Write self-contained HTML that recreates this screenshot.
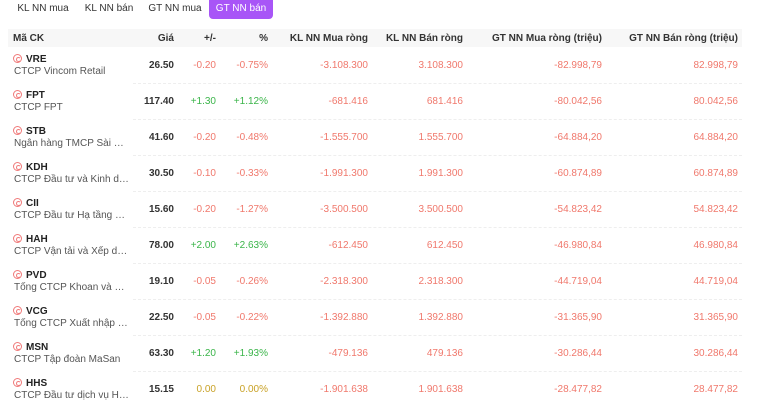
<!DOCTYPE html>
<html><head><meta charset="utf-8"><style>
body{margin:0;width:761px;height:400px;overflow:hidden;background:#fff;font-family:"Liberation Sans",sans-serif;color:#222;position:relative}
.tab{position:absolute;top:0;height:19px;line-height:17px;font-size:10px;color:#333;text-align:center}
.tab.on{background:#a855f7;color:#fff;border-radius:0 0 4px 4px}
.hdr{position:absolute;left:8px;top:29px;width:734px;height:18px;background:#f7f7f7}
.h{position:absolute;top:33px;font-size:10px;font-weight:bold;color:#333}
.row{position:absolute;left:0;width:761px;height:36px}
.sep{position:absolute;left:133px;right:19px;top:0;border-top:1px dashed #eee}
.c{position:absolute;top:13px;font-size:10px;text-align:right}
.sym{position:absolute;left:26px;top:7px;font-size:10px;font-weight:bold}
.nm{position:absolute;left:14px;top:19px;width:116px;font-size:10px;color:#555;white-space:nowrap;overflow:hidden;text-overflow:ellipsis}
.ic{position:absolute;left:13px;top:7px;width:9px;height:9px;border:1px solid #f07a7a;border-radius:50%;box-sizing:border-box}
.ic:after{content:"";position:absolute;left:2px;top:2px;width:3px;height:3px;border:1px solid #f07a7a;border-radius:50%;border-right-color:transparent}
.r{color:#f0786c}.g{color:#3bb54a}.y{color:#c9a227}
</style></head><body>
<div class="tab" style="left:10px;width:66px">KL NN mua</div>
<div class="tab" style="left:76px;width:66px">KL NN bán</div>
<div class="tab" style="left:142px;width:66px">GT NN mua</div>
<div class="tab on" style="left:209px;width:64px">GT NN bán</div>
<div class="hdr"></div>
<div class="h" style="left:13px">Mã CK</div>
<div class="h" style="right:587px">Giá</div>
<div class="h" style="right:545px">+/-</div>
<div class="h" style="right:493px">%</div>
<div class="h" style="right:393px">KL NN Mua ròng</div>
<div class="h" style="right:298px">KL NN Bán ròng</div>
<div class="h" style="right:159px">GT NN Mua ròng (triệu)</div>
<div class="h" style="right:23px">GT NN Bán ròng (triệu)</div>
<div id="rows"></div>
<script>
const syms=["VRE","FPT","STB","KDH","CII","HAH","PVD","VCG","MSN","HHS"];
const names=["CTCP Vincom Retail","CTCP FPT","Ngân hàng TMCP Sài Gòn Thương Tín","CTCP Đầu tư và Kinh doanh Nhà","CTCP Đầu tư Hạ tầng Kỹ thuật","CTCP Vận tải và Xếp dỡ Hải An","Tổng CTCP Khoan và Dịch vụ","Tổng CTCP Xuất nhập khẩu và Xây dựng","CTCP Tập đoàn MaSan","CTCP Đầu tư dịch vụ Hoàng Huy"];
const prices=["26.50","117.40","41.60","30.50","15.60","78.00","19.10","22.50","63.30","15.15"];
const chg=["-0.20","+1.30","-0.20","-0.10","-0.20","+2.00","-0.05","-0.05","+1.20","0.00"];
const pct=["-0.75%","+1.12%","-0.48%","-0.33%","-1.27%","+2.63%","-0.26%","-0.22%","+1.93%","0.00%"];
const klMua=["-3.108.300","-681.416","-1.555.700","-1.991.300","-3.500.500","-612.450","-2.318.300","-1.392.880","-479.136","-1.901.638"];
const klBan=["3.108.300","681.416","1.555.700","1.991.300","3.500.500","612.450","2.318.300","1.392.880","479.136","1.901.638"];
const gtMua=["-82.998,79","-80.042,56","-64.884,20","-60.874,89","-54.823,42","-46.980,84","-44.719,04","-31.365,90","-30.286,44","-28.477,82"];
const gtBan=["82.998,79","80.042,56","64.884,20","60.874,89","54.823,42","46.980,84","44.719,04","31.365,90","30.286,44","28.477,82"];
const wrap=document.getElementById('rows');
function cell(row,txt,right,cls,name,bold){
  const d=document.createElement('div');
  d.className='c '+cls;d.textContent=txt;d.style.right=right+'px';
  if(bold){d.style.fontWeight='bold';d.style.color='#333';}
  
  
  row.appendChild(d);
}
syms.forEach((s,i)=>{
  const row=document.createElement('div');row.className='row';row.style.top=(47+i*36)+'px';
  
  
  if(i>0){const sp=document.createElement('div');sp.className='sep';row.appendChild(sp);}
  const ic=document.createElement('div');ic.className='ic';
  
  
  row.appendChild(ic);
  const sy=document.createElement('div');sy.className='sym';sy.textContent=s;
  
  
  row.appendChild(sy);
  const nm=document.createElement('div');nm.className='nm';nm.textContent=names[i];
  
  
  row.appendChild(nm);
  const c=chg[i].startsWith('+')?'g':(chg[i].startsWith('-')?'r':'y');
  cell(row,prices[i],587,'','price',true);
  cell(row,chg[i],545,c,'change');
  cell(row,pct[i],493,c,'percent');
  cell(row,klMua[i],393,'r','kl-mua-rong');
  cell(row,klBan[i],298,'r','kl-ban-rong');
  cell(row,gtMua[i],159,'r','gt-mua-rong');
  cell(row,gtBan[i],23,'r','gt-ban-rong');
  wrap.appendChild(row);
});
</script>
</body></html>
